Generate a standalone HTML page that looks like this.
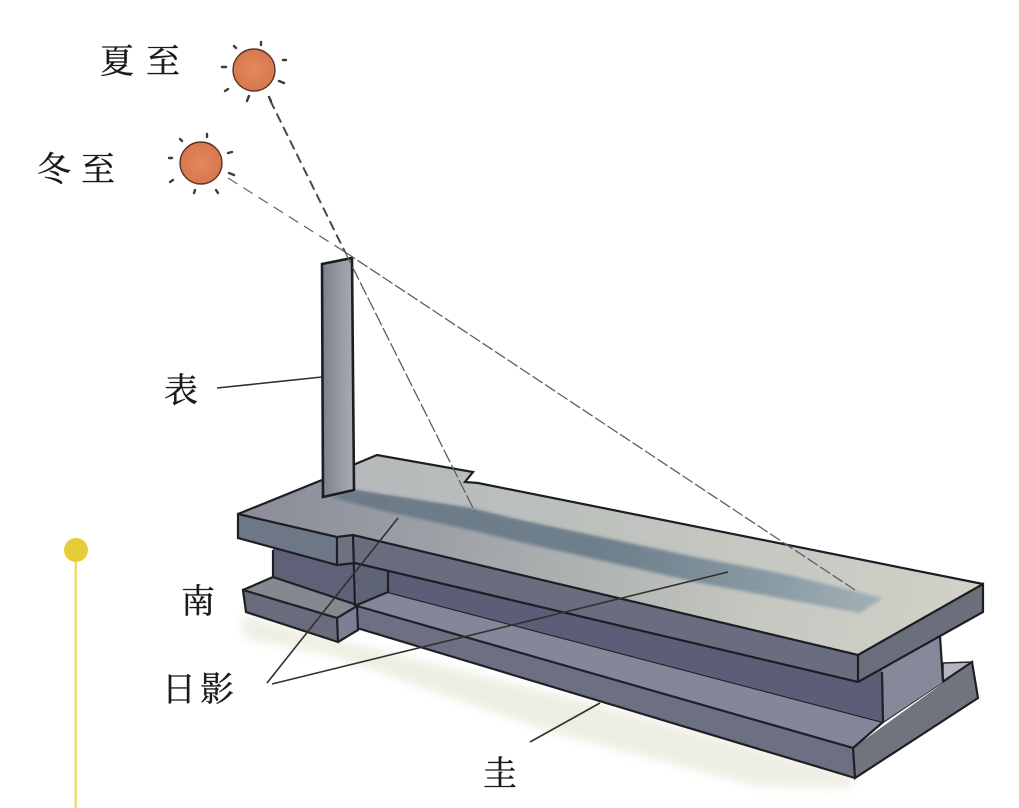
<!DOCTYPE html>
<html><head><meta charset="utf-8"><style>
html,body{margin:0;padding:0;background:#fff;width:1019px;height:808px;overflow:hidden}
svg{display:block}
text{font-family:"Liberation Serif","Noto Serif CJK SC",serif;font-size:34px;fill:#1a1a1a;stroke:#1a1a1a;stroke-width:.35}
</style></head><body>
<svg width="1019" height="808" viewBox="0 0 1019 808" xmlns="http://www.w3.org/2000/svg">
<defs>
<linearGradient id="top" x1="238" y1="500" x2="983" y2="620" gradientUnits="userSpaceOnUse">
<stop offset="0" stop-color="#898c98"/><stop offset=".2" stop-color="#979ba3"/><stop offset=".42" stop-color="#a9aeae"/><stop offset=".7" stop-color="#c5c7c0"/><stop offset="1" stop-color="#d3d2ca"/></linearGradient>
<linearGradient id="shade" x1="355" y1="500" x2="885" y2="600" gradientUnits="userSpaceOnUse">
<stop offset="0" stop-color="#6c7a87"/><stop offset=".5" stop-color="#6f808d"/><stop offset=".8" stop-color="#8a9ca5"/><stop offset="1" stop-color="#a3b2b6"/></linearGradient>
<linearGradient id="lit" x1="355" y1="0" x2="780" y2="0" gradientUnits="userSpaceOnUse">
<stop offset="0" stop-color="#b5b9bb"/><stop offset=".5" stop-color="#bcc0bc"/><stop offset="1" stop-color="#c8c9c2"/></linearGradient>
<linearGradient id="pole" x1="322" y1="0" x2="354" y2="0" gradientUnits="userSpaceOnUse">
<stop offset="0" stop-color="#7b8089"/><stop offset=".5" stop-color="#9297a0"/><stop offset="1" stop-color="#a9adb4"/></linearGradient>
<radialGradient id="sun"><stop offset="0" stop-color="#e2895c"/><stop offset="1" stop-color="#d8774e"/></radialGradient>
<filter id="soft" x="-10%" y="-30%" width="120%" height="160%"><feGaussianBlur stdDeviation="5"/></filter>
<filter id="s1" x="-20%" y="-20%" width="140%" height="140%"><feGaussianBlur stdDeviation="1.6"/></filter>
</defs>

<!-- ground shadow -->
<polygon points="240,615 340,640 600,705 855,775 850,788 760,786 560,735 330,655 245,638" fill="#eeeee3" filter="url(#soft)"/>

<!-- yellow pin -->
<rect x="74.5" y="555" width="2.5" height="253" fill="#ecdc76"/>
<circle cx="76" cy="550" r="12" fill="#e6cd38"/>

<!-- lower slab -->
<polygon points="943,663 972,662 960,675 943,682" fill="#b3b6bb" stroke="#222" stroke-width="1.5"/>
<polygon points="388,592 883,722 853,748 357,606" fill="#84869a"/>
<polygon points="357,606 853,748 855,778 357,628" fill="#6d6f83"/>
<polygon points="853,748 972,662 978,698 855,778" fill="#71737f"/>
<path d="M388,592 L883,722 M357,606 L853,748 L855,778 L978,698 L972,662 L883,722 M853,748 L883,722 M357,628 L855,778" fill="none" stroke="#1e2026" stroke-width="2.2"/>

<!-- web -->
<polygon points="273,545 355,560 357,605 273,577" fill="#5f6179"/>
<polygon points="355,560 388,565 388,592 357,605" fill="#5e6375"/>
<polygon points="388,560 882,665 883,722 388,592" fill="#5b5e76"/>
<polygon points="882,665 940,630 943,682 883,722" fill="#85899a"/>
<path d="M273,550 L273,577 M388,572 L388,592 L357,605 M882,672 L883,722 M940,636 L943,682" fill="none" stroke="#1e2026" stroke-width="2.2"/>

<!-- left lower block -->
<polygon points="243,590 273,577 357,605 337,618" fill="#858791"/>
<polygon points="243,590 337,618 338,642 246,612" fill="#696c7c"/>
<polygon points="337,618 357,606 358,630 338,642" fill="#7b8094"/>
<path d="M243,590 L273,577 M273,577 L357,605 M243,590 L337,618 L338,642 L246,612 Z M337,618 L357,606 L358,630 L338,642" fill="none" stroke="#1e2026" stroke-width="2.2"/>

<!-- top slab faces -->
<polygon points="238,515 337,537 337,565 238,538" fill="#6e7786"/>
<polygon points="337,537 353,535 355,563 337,565" fill="#6d7280"/>
<polygon points="353,535 858,655 858,682 355,563" fill="#6a6d80"/>
<polygon points="858,655 983,584 983,612 858,682" fill="#6b6e7b"/>

<!-- top surface -->
<polygon points="238,514 322,480 353,465 377,455 473,472 465,482 478,483 983,584 858,655 353,535 337,537" fill="url(#top)"/>
<polygon points="353,465 377,455 473,472 465,482 478,483 780,544 780,573 700,558 520,520 470,508 387,495 355,490" fill="url(#lit)"/>
<polygon points="330,497 355,490 387,495 470,508 520,520 700,558 780,573 883,598 860,613 700,583 520,542 470,530 380,510" fill="url(#shade)" filter="url(#s1)"/>

<path d="M238,514 L322,480 M353,465 L377,455 L473,472 L465,482 L478,483 L983,584 M238,514 L337,537 L353,535 L858,655 L983,584 L983,612 L858,682 L355,563 L337,565 L238,538 Z M337,537 L337,565 M353,535 L355,606 M858,655 L858,682" fill="none" stroke="#1c1e24" stroke-width="2.2"/>

<!-- pole -->
<polygon points="322,264 352,258 354,490 323,497" fill="url(#pole)" stroke="#1b1d22" stroke-width="2.6"/>

<!-- rays -->
<g fill="none" stroke="#4a4a48" stroke-width="1.3">
<path d="M270,100 L345,252" stroke-width="2" stroke-dasharray="10 5"/>
<path d="M228,178 L345,252" stroke="#6a6663" stroke-dasharray="11 7"/>
<path d="M345,252 L475,512" stroke="#5c5f63" stroke-dasharray="14 3"/>
<path d="M345,252 L855,590" stroke="#5c5f63" stroke-dasharray="12 3"/>
</g>

<!-- suns -->
<circle cx="254" cy="70" r="21" fill="url(#sun)" stroke="#5a3526" stroke-width="1.4"/>
<g stroke="#3c3c38" stroke-width="2.4" stroke-linecap="round">
<path d="M261,42v3M234,46l2,2M222,67h4M225,91l3,-2M247,101l2,-5M269,97l2,4M279,81l5,2M283,60h3"/>
</g>
<circle cx="201" cy="163" r="21" fill="url(#sun)" stroke="#5a3526" stroke-width="1.4"/>
<g stroke="#3c3c38" stroke-width="2.4" stroke-linecap="round">
<path d="M207,134v3M180,139l2,2M169,158h3M170,182l3,-2M194,193l1,-3M216,190l2,3M229,173l5,2M228,153l4,-1"/>
</g>

<!-- pointers -->
<g fill="none" stroke="#33302c" stroke-width="1.6">
<path d="M217,388 L322,377"/>
<path d="M267,683 L398,518"/>
<path d="M272,684 L728,572"/>
<path d="M530,742 L600,703"/>
</g>

<!-- labels -->
<text x="100" y="73">夏</text><text x="146" y="73">至</text>
<text x="37" y="181">冬</text><text x="81" y="181">至</text>
<text x="164" y="402">表</text>
<text x="181" y="613">南</text>
<text x="162" y="701">日</text><text x="200" y="701">影</text>
<text x="483" y="785">圭</text>
</svg>
</body></html>
